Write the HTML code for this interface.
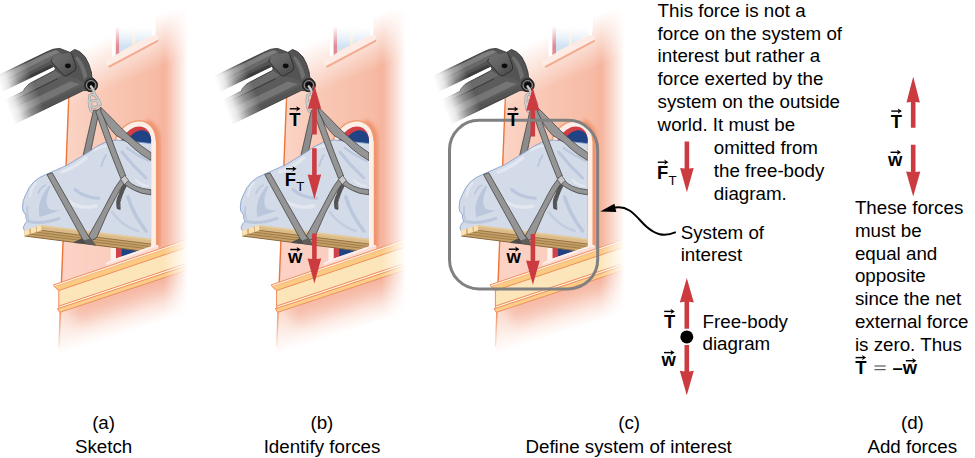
<!DOCTYPE html>
<html>
<head>
<meta charset="utf-8">
<title>Free-body diagram steps</title>
<style>
html,body{margin:0;padding:0;background:#fff;}
body{width:975px;height:458px;overflow:hidden;font-family:"Liberation Sans",sans-serif;}
svg{display:block;position:absolute;left:0;top:0;}
text{font-family:"Liberation Sans",sans-serif;font-size:18.75px;fill:#000;}
.b{font-weight:bold;font-size:18.4px;}
.sub{font-size:13.2px;}
.c text{text-anchor:middle;font-size:18.75px;}
</style>
</head>
<body>
<svg width="975" height="458" viewBox="0 0 975 458">
<defs>
  <!-- wall gradients -->
  <linearGradient id="wallH" gradientUnits="userSpaceOnUse" x1="58" y1="0" x2="194" y2="0">
    <stop offset="0" stop-color="#fbd6c8"/>
    <stop offset="0.45" stop-color="#f8c4b0"/>
    <stop offset="0.72" stop-color="#f7bba5"/>
    <stop offset="0.8" stop-color="#f5b199"/>
    <stop offset="1" stop-color="#f5b199"/>
  </linearGradient>
  <linearGradient id="reveal" gradientUnits="userSpaceOnUse" x1="156.4" y1="0" x2="166" y2="0">
    <stop offset="0" stop-color="#f19472" stop-opacity="1"/>
    <stop offset="1" stop-color="#f19472" stop-opacity="0"/>
  </linearGradient>
  <linearGradient id="fadeR" gradientUnits="userSpaceOnUse" x1="164" y1="0" x2="188" y2="0">
    <stop offset="0" stop-color="#fff" stop-opacity="0"/>
    <stop offset="1" stop-color="#fff" stop-opacity="1"/>
  </linearGradient>
  <linearGradient id="fadeT" gradientUnits="userSpaceOnUse" x1="86" y1="46" x2="105" y2="91">
    <stop offset="0" stop-color="#fff" stop-opacity="1"/>
    <stop offset="1" stop-color="#fff" stop-opacity="0"/>
  </linearGradient>
  <linearGradient id="fadeB" gradientUnits="userSpaceOnUse" x1="100" y1="291" x2="114.6" y2="336.6">
    <stop offset="0" stop-color="#fff" stop-opacity="0"/>
    <stop offset="1" stop-color="#fff" stop-opacity="1"/>
  </linearGradient>
  <linearGradient id="fadeArm" gradientUnits="userSpaceOnUse" x1="2" y1="93" x2="34" y2="81">
    <stop offset="0" stop-color="#fff" stop-opacity="1"/>
    <stop offset="0.25" stop-color="#fff" stop-opacity="0.85"/>
    <stop offset="0.6" stop-color="#fff" stop-opacity="0.35"/>
    <stop offset="1" stop-color="#fff" stop-opacity="0"/>
  </linearGradient>
  <linearGradient id="ledgeG" gradientUnits="userSpaceOnUse" x1="0" y1="0" x2="6" y2="19">
    <stop offset="0" stop-color="#fde3b6"/>
    <stop offset="1" stop-color="#fbd49c"/>
  </linearGradient>
  <linearGradient id="glass" gradientUnits="userSpaceOnUse" x1="0" y1="20" x2="0" y2="55">
    <stop offset="0" stop-color="#f2f7fc"/>
    <stop offset="1" stop-color="#c6dcef"/>
  </linearGradient>

  <linearGradient id="shadowG" gradientUnits="userSpaceOnUse" x1="100" y1="298" x2="108" y2="324">
    <stop offset="0" stop-color="#f3a38a" stop-opacity="0.9"/>
    <stop offset="1" stop-color="#f3a38a" stop-opacity="0"/>
  </linearGradient>
  <linearGradient id="brk" gradientUnits="userSpaceOnUse" x1="54" y1="54" x2="72" y2="74">
    <stop offset="0" stop-color="#6f6f6f"/>
    <stop offset="0.5" stop-color="#626262"/>
    <stop offset="1" stop-color="#4c4c4c"/>
  </linearGradient>
  <linearGradient id="fadeW" gradientUnits="userSpaceOnUse" x1="0" y1="26" x2="0" y2="46">
    <stop offset="0" stop-color="#fff" stop-opacity="1"/>
    <stop offset="1" stop-color="#fff" stop-opacity="0"/>
  </linearGradient>
  <filter id="soft" x="-10%" y="-10%" width="120%" height="120%"><feGaussianBlur stdDeviation="0.7"/></filter>
  <filter id="soft5" x="-30%" y="-50%" width="160%" height="200%"><feGaussianBlur stdDeviation="6"/></filter>
  <filter id="soft2" x="-50%" y="-10%" width="200%" height="120%"><feGaussianBlur stdDeviation="2.2"/></filter>
  <g id="scene">
    <!-- wall -->
    <polygon points="72.2,10 195,10 195,352 58.7,352" fill="url(#wallH)"/>
    <!-- lighter region lower-left (under board, above ledge) -->
    <polygon points="63,235 112,240 112,268 61,290" fill="#fbd2c4" opacity="0.7"/>
    <!-- shadow under ledge -->
    <polygon points="70,306 196,262 196,290 150,306 78,330" fill="#f3a186" opacity="0.9" filter="url(#soft5)"/>


    <path d="M146,122.4 C152.5,125.5 156.6,132 156.6,141.5 L156.6,248" fill="none" stroke="#ef8c66" stroke-width="7" filter="url(#soft2)"/>
    <!-- arched window -->
    <g>
      <path d="M115.2,262 L115.2,142 C116.5,131 128,120.7 139,120.7 C149.5,120.7 156.2,129.5 156.2,141.5 L156.2,250 Z" fill="#fdeee8" stroke="#f09c72" stroke-width="1.4"/>
      <path d="M118.6,262 L118.6,147 C119,140 129,126.5 139,126.5 C146.5,126.5 151,132 151.2,141 L151.2,262 Z" fill="#cf3f45"/>
      <path d="M121.5,262 L121.5,152 C123.5,141 134,130.3 142,130.3 C147.5,130.3 151.2,134.5 151.2,141 L151.2,262 Z" fill="#1f4384"/>
      <!-- lower-left frame piece -->
      <polygon points="110.7,246 116,246 116,262 110.7,264" fill="#fdf1ec"/>
      <polygon points="116,246 121.2,246 121.2,260 116,262" fill="#d0414a"/>
    </g>

    <!-- left edge line (drawn before objects) -->
    <line x1="68.8" y1="96" x2="58.9" y2="347" stroke="#ee7438" stroke-width="1.4"/>


    <!-- fades -->
    <rect x="50" y="0" width="150" height="130" fill="url(#fadeT)"/>
    <!-- top window -->
    <g>
      <rect x="112" y="18" width="3.8" height="40" fill="#fff"/>
      <rect x="115.8" y="18" width="3.6" height="38" fill="#e08a94"/>
      <polygon points="119.4,18 152.2,18 152.2,34.8 119.4,52" fill="url(#glass)"/>
      <rect x="132.4" y="18" width="2.6" height="28" fill="#fcebd6"/>
      <rect x="152.2" y="18" width="3.2" height="20" fill="#fff"/>
      <rect x="155.4" y="18" width="1.2" height="18" fill="#f9cdbd"/>
      <rect x="112" y="14" width="44.6" height="34" fill="url(#fadeW)"/>
      <!-- sill -->
      <polygon points="106,60 152.2,35.4 158.2,34.8 158.2,39.6 107.8,66.2 106,65.4" fill="#fdece6"/>
      <polygon points="107.8,66.2 158.2,39.6 158.2,41.8 109.5,67.8" fill="#f5ab8f"/>
    </g>
    <polygon points="50,300 200,250 200,360 50,360" fill="url(#fadeB)"/>


    <!-- ===== crane arm ===== -->
    <g>
      <!-- silhouette -->
      <path d="M-4,76.5 L46,52.3 Q53,48.2 59.7,48.4 L70.1,52.4 L74.7,49.4 Q80,50.5 85.2,57 Q89.5,64 91.3,72 L92,77.5 A6.7,6.7 0 1 1 86.5,90.6 L83.3,90.6 L-4,132.8 Z" fill="#545454" stroke="#2b2b2b" stroke-width="0.8" stroke-linejoin="round"/>
      <!-- upper beam highlight -->
      <polygon points="-4,78 46,53.6 56,50 60,52 -4,84" fill="#7e7e7e"/>
      <polygon points="-4,84 60,52 62,55 -4,89" fill="#686868"/>
      <!-- lower beam faces -->
      <polygon points="-4,105 23.6,91.1 24.2,88.9 26.4,86.5 30.7,82.9 54.7,70.4 62,75.4 9.6,102.4 -4,109" fill="#6a6a6a"/>
      <polygon points="-4,110 9.6,102.4 62,76 76,78 86,84 -4,127" fill="#5c5c5c"/>
      <polygon points="-4,117 70,81.5 80,84 -4,125" fill="#757575"/>
      <polyline points="9.6,102.4 57.6,78.8" fill="none" stroke="#2f2f2f" stroke-width="0.8"/>
      <!-- white gap -->
      <polygon points="53.6,66.5 -4,94.4 -4,91.2 51.4,64.4" fill="#3d3d3d"/>
      <path d="M53.6,66.5 Q56.6,68 54.7,70.4 L30.7,82.9 Q28,84.3 26.4,86.5 L24.2,88.9 L23.6,91.1 L-4,105 L-4,94.4 Z" fill="#fff" stroke="#222" stroke-width="0.8"/>
      <!-- head highlight -->
      <path d="M77,56 Q84,62 87.5,76 L84,80 Q81,66 75,58 Z" fill="#6f6f6f"/>
      <!-- bracket -->
      <path d="M51.3,61.4 Q50.5,59.8 52.2,59 L60,54.6 L70.6,52.4 Q72,54 72.8,57 L76,66.2 Q76.3,69.6 74.7,70.8 L66.4,75.8 Q64.5,76.6 62.3,74.1 L53.1,63.6 Z" fill="url(#brk)"/>
      <path d="M52.2,59 Q50.5,59.8 51.3,61.4 L53.1,63.6 L62.3,74.1 Q64.5,76.6 66.4,75.8 L74.7,70.8 Q76.3,69.6 76,66.2 L72.8,57 Q72,54 70.3,52.4" fill="none" stroke="#2b2b2b" stroke-width="0.9" stroke-linejoin="round" stroke-linecap="round"/>
      <ellipse cx="67.9" cy="65.8" rx="2.9" ry="2.4" fill="#0d0d0d"/>
      <!-- eye ring -->
      <circle cx="91.1" cy="85.2" r="6.5" fill="#2e2e2e" stroke="#222" stroke-width="0.9"/>
      <circle cx="91.1" cy="85.2" r="4.7" fill="none" stroke="#9a9a9a" stroke-width="1"/>
      <circle cx="91.1" cy="85.2" r="3.3" fill="#0a0a0a"/>
      <!-- fade at left -->
      <rect x="-8" y="40" width="66" height="100" fill="url(#fadeArm)"/>
    </g>

    <!-- ===== rear straps ===== -->
    <g fill="#8c8c8c" stroke="#444" stroke-width="0.8" stroke-linejoin="round">
      <!-- strap A (behind bundle, left) -->
      <polygon points="93.5,110.2 99.2,110.2 90.2,154 83.2,155"/>
    </g>

    <!-- ===== board ===== -->
    <g>
      <polygon points="24.2,229.8 29.4,228.8 30.7,228.1 36,226.8 36.8,225.9 41.2,224.8 151.2,238.6 151.2,252.2 24.6,236" fill="#c6a26b"/>
      <polygon points="41.2,224.8 151.2,238.6 151.2,243.9 41.6,230.3" fill="#dbbb87"/>
      <polygon points="41.2,224.8 151.2,238.6 151.2,240.4 41.4,226.8" fill="#e5c997"/>
      <polygon points="36.4,232 41.6,230.6 151.2,244.4 151.2,246.3" fill="#c8a36d"/>
      <polygon points="29.8,233.8 36.4,232.4 151.2,246.9 151.2,249" fill="#c39d66"/>
      <polyline points="41.6,230.4 151.2,244.1" fill="none" stroke="#8f6d3d" stroke-width="0.9"/>
      <polyline points="36.4,232.2 151.2,246.6" fill="none" stroke="#96733f" stroke-width="0.8"/>
      <polyline points="29.8,234 151.2,249.2" fill="none" stroke="#96733f" stroke-width="0.8"/>
      <polyline points="24.6,236 151.2,252.2" fill="none" stroke="#8a683a" stroke-width="1"/>
      <!-- end faces -->
      <polygon points="24.2,229.8 29.4,228.8 29.8,233.8 24.6,236" fill="#fbe2b4"/>
      <polygon points="30.7,228.1 36,226.8 36.4,232 31.2,233.8" fill="#fbe2b4"/>
      <polygon points="36.8,225.9 41.2,224.8 41.6,230.3 37,232" fill="#fbe2b4"/>
      <polygon points="29.4,228.8 30.7,228.1 31.2,233.8 29.8,233.8" fill="#d9b47c"/>
      <polygon points="36,226.8 36.8,225.9 37,232 36.4,232" fill="#d9b47c"/>
    </g>

    <!-- ===== bundle ===== -->
    <g>
      <path d="M24.4,230.4 Q22.6,228 23.7,226.4 Q24.6,223.6 27.2,221.1 Q25.2,218.4 25.9,215 Q21.8,211 22.5,206.9 Q22.6,200 25.6,194.9 Q28.6,187 34,181.7 Q39,177 46,174.5 L67.7,164.9 L89.3,151.6 Q97,145.6 105,142.4 Q112,140 117,140 L135,141.8 L151.2,143.6 L151.2,238.8 L41.2,225 L36.8,226.1 L36,227 L30.7,228.3 L29.4,229 Z" fill="#d4dbe8"/>
      <!-- folds -->
      <g fill="none" stroke="#bbc7dc" stroke-linecap="round" stroke-linejoin="round" filter="url(#soft)">
        <path d="M49,185.5 Q42,194 39.2,205 Q38.2,211 39.6,217 L47,214.8 Q53,212.8 61,209.4 Q53,211.6 48.6,208.6 Q45.6,203 47,197 Q48.4,191 50.8,186.6 Z" fill="#b9c6db" stroke="none"/>
        <path d="M45.3,185.3 Q40.5,187.5 38.2,193.4" stroke-width="1.6"/>
        <path d="M29,221.5 Q42,224.5 59,218.5" stroke-width="3.2"/>
        <path d="M75,189.5 Q85,198 99,198.2" stroke-width="3"/>
        <path d="M106,155 Q103,160 101.4,166" stroke-width="2"/>
        <path d="M122,152 Q133,166 146,178" stroke-width="3"/>
        <path d="M127,148 Q138,156 149,161" stroke-width="2.2"/>
        <path d="M128,197 Q133,214 146,231" stroke-width="3.6"/>
        <path d="M112,212 Q122,226 138,231" stroke-width="2.6" stroke="#c2cde0"/>
        <path d="M27.6,207 Q26.5,214 28.6,219" stroke-width="1.8"/>
      </g>
      <g fill="none" stroke="#e2e7f0" stroke-linecap="round" filter="url(#soft)">
        <path d="M62,172 Q74,168 86,158" stroke-width="3.4"/>
        <path d="M94,150 Q101,146.5 110,145" stroke-width="2.6"/>
        <path d="M30,196 Q31,188 36,183" stroke-width="2.2"/>
        <path d="M66,200 Q80,210 96,206" stroke-width="3.4"/>
        <path d="M136,180 Q142,186 148,186" stroke-width="2.2"/>
      </g>
      <path d="M24.4,230.4 Q22.6,228 23.7,226.4 Q24.6,223.6 27.2,221.1 Q25.2,218.4 25.9,215 Q21.8,211 22.5,206.9 Q22.6,200 25.6,194.9 Q28.6,187 34,181.7 Q39,177 46,174.5 L67.7,164.9 L89.3,151.6 Q97,145.6 105,142.4 Q112,140 117,140 L135,141.8 L151.2,143.6" fill="none" stroke="#7c9aca" stroke-width="0.8" stroke-linejoin="round"/>
    </g>

    <!-- ===== front straps ===== -->
    <g fill="#959595" stroke="#444" stroke-width="0.8" stroke-linejoin="round">
      <!-- dangling dark piece -->
      <path d="M123.8,183.6 Q120,190 119,194.6 Q115.6,200 117.2,208.6 L120.2,209.4 Q118.8,202 122,195.8 Q124,190 126.4,186 Z" fill="#555"/>
      <!-- left strap over bundle -->
      
      <!-- from joint down-left to board -->
      <path d="M120.8,179.4 Q115,187 111.8,193.4 L101.5,213 L88.8,235.5 L74,242.5 L86.6,243.6 L96.7,237.7 L107.5,213 L116.6,195.8 Q120,189 124.2,183.8 Z"/>
      <polygon points="88.8,235.5 74,242.5 86.6,243.6 92.5,240.2" fill="#4c4c4c" stroke="none"/>
      <polygon points="46.9,174.5 52.2,172.8 88.4,236 95.4,245.1 86.2,243.6 82.2,238.6"/>
      <polygon points="83.6,240.8 89.6,238.6 95.4,245.1 86.2,243.6" fill="#5e5e5e" stroke="none"/>
      <!-- cross at board bottom -->
      
      <!-- strap B ring to joint -->
      <path d="M95.7,111.6 L100.6,108 L107.7,128.4 Q116,152 125.8,176 L120.8,178.6 Q110,152 102,129.8 Z"/>
      <!-- strap C over top to window -->
      <path d="M100.6,107.1 L113.4,119.9 Q120,127 127.6,134.1 Q134,140 141.8,146.2 L151.2,152.8 L151.2,160.6 L141.8,154.7 Q134,149 127.6,142.6 Q121,138 116.2,135.5 Q110,129 107,124.1 L101,112 Z"/>
      <!-- from joint to the right -->
      <path d="M127.6,180.2 Q131,184 135.8,186.2 Q142,189 151.2,189.8 L151.2,194.8 Q141,194 134.6,190.4 Q128.6,187.6 124.6,184.2 Z"/>
      <!-- joint -->
      <polygon points="120.6,179.4 124.8,175.4 128.6,180.4 124.4,184.6" fill="#c9c9c9" stroke="#555"/>
    </g>

    <!-- ring / shackle -->
    <g fill="none" stroke="#9a9a9a" stroke-width="2.8" stroke-linecap="round">
      <path d="M91,86.4 Q93.8,89.4 94.8,94.4"/>
      <path d="M95.2,95.6 Q92,93.4 89.6,95.6 Q88.6,102 89.9,107.6 Q90.6,110.4 91.8,111.4"/>
      <ellipse cx="94.6" cy="103.9" rx="4" ry="3.5"/>
      <path d="M95.4,95.8 Q98.8,99.6 100.6,104.6"/>
    </g>
    <g fill="none" stroke="#cfcfcf" stroke-width="1.7" stroke-linecap="round">
      <path d="M91,86.4 Q93.8,89.4 94.8,94.4"/>
      <path d="M95.2,95.6 Q92,93.4 89.6,95.6 Q88.6,102 89.9,107.6 Q90.6,110.4 91.8,111.4"/>
      <ellipse cx="94.6" cy="103.9" rx="4" ry="3.5"/>
      <path d="M95.4,95.8 Q98.8,99.6 100.6,104.6"/>
    </g>

    <!-- window right frame over bundle -->
    <rect x="151.2" y="141.3" width="4.6" height="106.4" fill="#fdeee8"/>
    <!-- window sill on ledge -->
    <polygon points="106.1,262.9 110.9,260.3 155.8,244.7 158.5,245.6 158.5,249.6 106.1,267.2" fill="#fbddd5"/>
    <polygon points="106.1,262.9 110.9,260.3 155.8,244.7 158.5,245.6 106.1,264.6" fill="#fdeee9"/>
    <!-- ledge -->
    <g>
      <polygon points="53.4,284.9 55.4,287.7 58.8,290.7 58.8,307.4 57.7,308.9 59.8,312.3 196.0,267.1 196.0,236.4" fill="#fde5ba"/>
      <polygon points="53.4,284.9 196.0,236.4 196.0,238.6 54.6,286.6" fill="#fef2e2"/>
      <polygon points="54.6,286.6 196.0,238.6 196.0,244.2 58.6,290.6" fill="#fbcb82"/>
      <polygon points="58.8,306.6 196.0,260.8 196.0,262.3 58.2,308.3" fill="#fef2e2"/>
      <polygon points="57.7,308.9 196.0,262.8 196.0,266.6 59.6,311.9" fill="#fbcd86"/>
      <line x1="53.4" y1="284.9" x2="196.0" y2="236.4" stroke="#ef8c5c" stroke-width="1"/>
      <line x1="58.6" y1="290.6" x2="196.0" y2="244.2" stroke="#ef8c5c" stroke-width="1"/>
      <line x1="58.8" y1="306.1" x2="196.0" y2="260.3" stroke="#ef8c5c" stroke-width="1"/>
      <line x1="57.8" y1="308.7" x2="196.0" y2="262.7" stroke="#ef8c5c" stroke-width="1"/>
      <line x1="59.8" y1="312.3" x2="196.0" y2="267.1" stroke="#ef8c5c" stroke-width="1"/>
      <line x1="54.6" y1="286.6" x2="196.0" y2="238.6" stroke="#f4a87c" stroke-width="0.7"/>
      <polyline points="53.4,284.9 55.4,287.7 58.8,290.7 58.8,307.4 57.7,308.9 59.8,312.3" fill="none" stroke="#ef8c5c" stroke-width="1" stroke-linejoin="round"/>
    </g>
    <!-- right fade -->
    <rect x="155" y="0" width="62" height="380" fill="url(#fadeR)"/>

  </g>
</defs>

<use href="#scene"/>
<use href="#scene" transform="translate(217.8,0)"/>
<use href="#scene" transform="translate(436.6,0)"/>

<!-- ================= arrows & labels ================= -->
<defs>
  <!-- small vector arrow (over-arrow), origin at left end, length 10 -->
  <g id="vec">
    <line x1="0" y1="0" x2="8.2" y2="0" stroke="#000" stroke-width="1.4"/>
    <polygon points="10.6,0 6.4,-2.6 7.5,0 6.4,2.6" fill="#000"/>
  </g>
</defs>

<g fill="#cc3b40" stroke="none">
  <!-- (b) T up -->
  <polygon points="314.5,85.6 321.2,108.8 316.8,108.2 316.8,134.6 312.2,134.6 312.2,108.2 307.8,108.8"/>
  <!-- (b) F_T down -->
  <polygon points="312.1,148.2 316.7,148.2 316.7,175 321.2,174.4 314.4,199 307.6,174.4 312.1,175"/>
  <!-- (b) w down -->
  <polygon points="312.1,233.4 316.7,233.4 316.7,259 321.2,258.4 314.4,283.4 307.6,258.4 312.1,259"/>
  <!-- (c) T up -->
  <polygon points="532.8,87.6 539.5,110.8 535.1,110.2 535.1,136.4 530.5,136.4 530.5,110.2 526.1,110.8"/>
  <!-- (c) w down -->
  <polygon points="530.6,234 535.2,234 535.2,261 539.7,260.4 532.9,284.8 526.1,260.4 530.6,261"/>
  <!-- (c) F_T down (text area) -->
  <polygon points="684.6,141.6 689.2,141.6 689.2,168.6 693.7,168 686.9,192.3 680.1,168 684.6,168.6"/>
  <!-- (c) free body -->
  <polygon points="686.8,278 693.8,302.4 689.1,301.8 689.1,328.8 684.5,328.8 684.5,301.8 679.8,302.4"/>
  <polygon points="684.5,345 689.1,345 689.1,371.4 693.8,370.8 686.8,395.2 679.8,370.8 684.5,371.4"/>
  <!-- (d) T up -->
  <polygon points="913.2,76.8 919.9,102.5 915.5,101.9 915.5,127.8 910.9,127.8 910.9,101.9 906.5,102.5"/>
  <!-- (d) w down -->
  <polygon points="910.9,144.8 915.5,144.8 915.5,172 920.3,171.4 913.2,196.5 906.1,171.4 910.9,172"/>
</g>
<circle cx="686.8" cy="336.9" r="6.5" fill="#000"/>

<!-- system box -->
<rect x="449.5" y="120.3" width="148.2" height="168.6" rx="29.5" ry="29.5" fill="none" stroke="#808080" stroke-width="3"/>

<!-- curved pointer -->
<path d="M675.8,232.1 C663.5,237.4 655,234.4 646.3,226.6 C637,218 630,205 615,207.6" fill="none" stroke="#000" stroke-width="2"/>
<polygon points="600.2,211.6 614.4,203.7 616.3,211.9" fill="#000"/>

<!-- vector labels -->
<g class="lbl">
  <!-- (b) -->
  <text class="b" x="289.2" y="125.8">T</text><use href="#vec" x="289.8" y="108.8"/>
  <text class="b" x="284.8" y="185.6">F</text><use href="#vec" x="286" y="168.8"/>
  <text class="sub" x="296.2" y="191.4">T</text>
  <text class="b" x="288" y="263.3">w</text><use href="#vec" x="290.2" y="249.5"/>
  <!-- (c) -->
  <text class="b" x="507.3" y="125.8">T</text><use href="#vec" x="507.8" y="109"/>
  <text class="b" x="506.6" y="262.8">w</text><use href="#vec" x="508.8" y="249.2"/>
  <text class="b" x="657.1" y="178.8">F</text><use href="#vec" x="657.8" y="162.2"/>
  <text class="sub" x="668.4" y="184.9">T</text>
  <text class="b" x="663.9" y="327.7">T</text><use href="#vec" x="664.2" y="311.4"/>
  <text class="b" x="661.5" y="365.7">w</text><use href="#vec" x="664" y="352.6"/>
  <!-- (d) -->
  <text class="b" x="890.8" y="127.9">T</text><use href="#vec" x="891.3" y="111.1"/>
  <text class="b" x="888.1" y="165.6">w</text><use href="#vec" x="890.5" y="152.3"/>
</g>

<!-- text blocks -->
<g>
  <text x="657.6" y="16.8">This force is not a</text>
  <text x="657.6" y="39.6">force on the system of</text>
  <text x="657.6" y="62.4">interest but rather a</text>
  <text x="657.6" y="85.3">force exerted by the</text>
  <text x="657.6" y="108.2">system on the outside</text>
  <text x="657.6" y="131.2">world. It must be</text>
  <text x="713.8" y="154.1">omitted from</text>
  <text x="713.8" y="177.2">the free-body</text>
  <text x="713.8" y="199.8">diagram.</text>

  <text x="680.7" y="238.7">System of</text>
  <text x="680.7" y="261.4">interest</text>

  <text x="702.5" y="327.8">Free-body</text>
  <text x="702.5" y="350.2">diagram</text>

  <text x="854.9" y="213.9">These forces</text>
  <text x="854.9" y="236.7">must be</text>
  <text x="854.9" y="259.5">equal and</text>
  <text x="854.9" y="282.3">opposite</text>
  <text x="854.9" y="305.1">since the net</text>
  <text x="854.9" y="327.9">external force</text>
  <text x="854.9" y="350.7">is zero. Thus</text>
  <text class="b" x="855.3" y="373.5">T</text><use href="#vec" x="855.6" y="357.6"/>
  <path d="M874.5,366 H885.7 M874.5,369.7 H885.7" stroke="#222" stroke-width="0.9" fill="none"/>
  <text class="b" x="892.6" y="373.5">–w</text><use href="#vec" x="905.8" y="360.7"/>
</g>

<!-- captions -->
<g class="c">
  <text x="103.6" y="429.1">(a)</text>
  <text x="103.6" y="452.7">Sketch</text>
  <text x="321.9" y="429.1">(b)</text>
  <text x="322" y="452.7">Identify forces</text>
  <text x="629.1" y="429.1">(c)</text>
  <text x="628.6" y="452.7">Define system of interest</text>
  <text x="912.4" y="429.1">(d)</text>
  <text x="912.2" y="452.7">Add forces</text>
</g>

</svg>
</body>
</html>
